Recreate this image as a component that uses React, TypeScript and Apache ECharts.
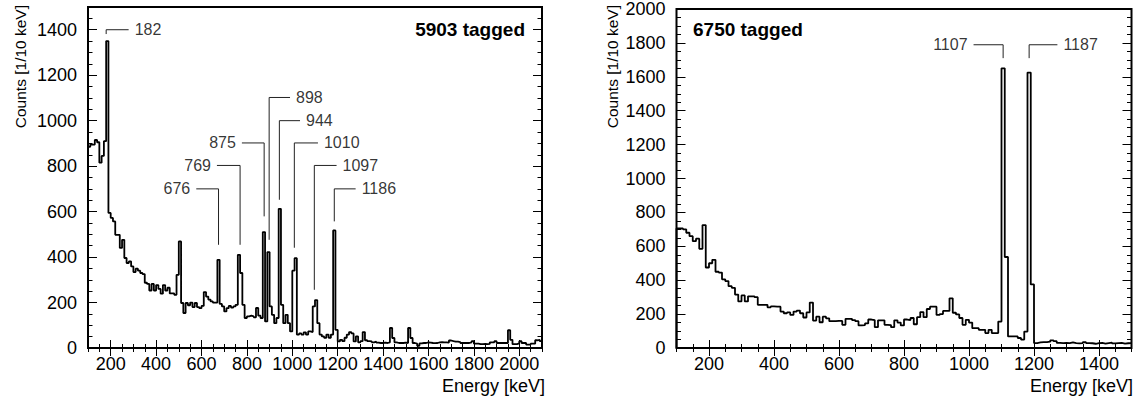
import { useEffect, useRef } from "react";
import * as echarts from "echarts";

// ---------------- data ----------------
const binWidth = 10; // keV
const leftStart = 100;
const rightStart = 100;

// 5903 tagged, counts per 10 keV bin starting at 100 keV
const leftCounts = [
  885, 895, 895, 915, 905, 815, 845, 910, 1350, 594,
  572, 557, 498, 498, 440, 476, 396, 374, 381, 359,
  334, 349, 340, 330, 325, 287, 282, 253, 282, 253,
  277, 260, 239, 277, 253, 265, 240, 240, 234, 322,
  469, 198, 154, 198, 188, 200, 180, 198, 180, 175,
  185, 246, 226, 213, 205, 200, 200, 388, 194, 183,
  161, 175, 185, 178, 183, 190, 410, 330, 190, 132,
  139, 142, 139, 135, 176, 142, 132, 510, 117, 422,
  183, 146, 109, 132, 612, 190, 109, 146, 109, 73,
  340, 395, 59, 64, 59, 69, 59, 73, 70, 183,
  211, 109, 59, 51, 45, 59, 45, 59, 517, 80,
  29, 36, 30, 45, 59, 70, 64, 29, 51, 25,
  30, 70, 34, 30, 29, 25, 28, 24, 22, 22,
  24, 22, 25, 88, 44, 25, 22, 23, 22, 24,
  22, 88, 44, 22, 19, 10, 20, 22, 22, 25,
  24, 22, 21, 22, 25, 26, 25, 25, 24, 33,
  30, 28, 28, 26, 22, 22, 23, 22, 25, 30,
  19, 19, 17, 17, 18, 17, 18, 25, 25, 30,
  22, 22, 22, 22, 22, 78, 36, 17, 17, 20,
  30, 22, 22, 15, 15, 19, 19, 34, 36, 30,
];

// 6750 tagged, counts per 10 keV bin starting at 100 keV
const rightCounts = [
  705, 705, 700, 680, 660, 630, 645, 585, 725, 475,
  500, 520, 450, 445, 405, 395, 365, 355, 315, 275,
  310, 275, 305, 305, 300, 255, 255, 255, 240, 245,
  244, 244, 215, 205, 210, 195, 215, 221, 205, 180,
  210, 268, 162, 185, 152, 185, 175, 158, 158, 160,
  160, 137, 172, 172, 165, 158, 133, 135, 145, 168,
  165, 123, 163, 163, 137, 135, 123, 163, 150, 133,
  168, 165, 177, 140, 182, 212, 182, 230, 244, 244,
  195, 200, 219, 219, 293, 208, 198, 177, 137, 166,
  150, 117, 117, 107, 107, 88, 107, 88, 88, 156,
  1650, 537, 68, 68, 68, 59, 50, 97, 1625, 375,
  29, 33, 35, 35, 37, 45, 40, 30, 29, 30,
  29, 33, 29, 27, 29, 34, 29, 28, 25, 29,
  30, 26, 29, 32, 27, 29, 30, 26, 28, 29,
];

// peak annotations: energy of leader, leader top/bottom (counts), end of horizontal arm (keV)
const leftPeaks = [
  { label: "182", energy: 180, top: 1400, bottom: 1381, arm: 279 },
  { label: "676", energy: 675, top: 700, bottom: 454, arm: 577 },
  { label: "769", energy: 770, top: 803, bottom: 454, arm: 668 },
  { label: "875", energy: 876, top: 902, bottom: 579, arm: 778 },
  { label: "898", energy: 898, top: 1102, bottom: 476, arm: 990 },
  { label: "944", energy: 943, top: 1000, bottom: 652, arm: 1034 },
  { label: "1010", energy: 1009, top: 902, bottom: 441, arm: 1113 },
  { label: "1097", energy: 1097, top: 803, bottom: 256, arm: 1195 },
  { label: "1186", energy: 1185, top: 700, bottom: 557, arm: 1279 },
];
const rightPeaks = [
  { label: "1107", energy: 1105, top: 1789, bottom: 1710, arm: 1014 },
  { label: "1187", energy: 1185, top: 1789, bottom: 1710, arm: 1272 },
];

const leftXRange = [100, 2100];
const leftYRange = [0, 1500];
const rightXRange = [100, 1500];
const rightYRange = [0, 2000];

const leftXTicks = [200, 400, 600, 800, 1000, 1200, 1400, 1600, 1800, 2000];
const leftYTicks = [0, 200, 400, 600, 800, 1000, 1200, 1400];
const rightXTicks = [200, 400, 600, 800, 1000, 1200, 1400];
const rightYTicks = [0, 200, 400, 600, 800, 1000, 1200, 1400, 1600, 1800, 2000];

const leftTag = "5903 tagged";
const rightTag = "6750 tagged";
const xTitle = "Energy [keV]";
const yTitle = "Counts [1/10 keV]";

// ---------------- helpers ----------------
const FONT = "Liberation Sans, Arial, Helvetica, sans-serif";

function minorTicks(lo: number, hi: number, step: number) {
  const out: number[] = [];
  for (let v = lo; v <= hi + 1e-9; v += step) out.push(v);
  return out;
}

function histPoints(start: number, counts: number[]) {
  const pts: number[][] = [[start, 0]];
  counts.forEach((c, i) => pts.push([start + i * binWidth, c]));
  pts.push([start + counts.length * binWidth, counts[counts.length - 1]]);
  return pts;
}

const plain = (v: number) => String(v);

function buildAxes(g: number, xr: number[], yr: number[], xt: number[], yt: number[]) {
  const tickStyle = { color: "#000", width: 1 };
  const xMinor = minorTicks(xr[0], xr[1], 50);
  const yMinor = minorTicks(yr[0], yr[1], 50);
  const baseX = {
    gridIndex: g,
    type: "value",
    min: xr[0],
    max: xr[1],
    axisLine: { show: false },
    splitLine: { show: false },
  };
  const baseY = {
    gridIndex: g,
    type: "value",
    min: yr[0],
    max: yr[1],
    axisLine: { show: false },
    splitLine: { show: false },
  };
  const xAxes = [
    {
      ...baseX,
      position: "bottom",
      axisTick: { show: true, inside: true, length: 8, customValues: xt, lineStyle: tickStyle },
      axisLabel: { show: true, customValues: xt, formatter: plain, fontSize: 18, color: "#000", margin: 7, fontFamily: FONT },
    },
    {
      ...baseX,
      position: "bottom",
      axisTick: { show: true, inside: true, length: 4, customValues: xMinor, lineStyle: tickStyle },
      axisLabel: { show: false },
    },
    {
      ...baseX,
      position: "top",
      axisTick: { show: true, inside: true, length: 8, customValues: xt, lineStyle: tickStyle },
      axisLabel: { show: false },
    },
    {
      ...baseX,
      position: "top",
      axisTick: { show: true, inside: true, length: 4, customValues: xMinor, lineStyle: tickStyle },
      axisLabel: { show: false },
    },
  ];
  const yAxes = [
    {
      ...baseY,
      position: "left",
      axisTick: { show: true, inside: true, length: 9, customValues: yt, lineStyle: tickStyle },
      axisLabel: { show: true, customValues: yt, formatter: plain, fontSize: 18, color: "#000", margin: 11, fontFamily: FONT },
    },
    {
      ...baseY,
      position: "left",
      axisTick: { show: true, inside: true, length: 4.5, customValues: yMinor, lineStyle: tickStyle },
      axisLabel: { show: false },
    },
    {
      ...baseY,
      position: "right",
      axisTick: { show: true, inside: true, length: 9, customValues: yt, lineStyle: tickStyle },
      axisLabel: { show: false },
    },
    {
      ...baseY,
      position: "right",
      axisTick: { show: true, inside: true, length: 4.5, customValues: yMinor, lineStyle: tickStyle },
      axisLabel: { show: false },
    },
  ];
  return { xAxes, yAxes };
}

function peakSeries(peaks: typeof leftPeaks, axisIndex: number) {
  const out: any[] = [];
  peaks.forEach((p) => {
    out.push({
      type: "line",
      xAxisIndex: axisIndex,
      yAxisIndex: axisIndex,
      symbol: "none",
      silent: true,
      lineStyle: { color: "#222", width: 1 },
      data: [
        [p.energy, p.bottom],
        [p.energy, p.top],
        [p.arm, p.top],
      ],
      z: 3,
    });
  });
  out.push({
    type: "scatter",
    xAxisIndex: axisIndex,
    yAxisIndex: axisIndex,
    symbolSize: 0,
    silent: true,
    itemStyle: { color: "#000" },
    data: peaks.map((p) => ({
      value: [p.arm, p.top],
      label: {
        show: true,
        position: p.arm > p.energy ? "right" : "left",
        distance: 6,
        formatter: p.label,
        fontSize: 16,
        color: "#000",
        fontFamily: FONT,
      },
    })),
    z: 4,
  });
  return out;
}

export default function App() {
  const ref = useRef<HTMLDivElement>(null);

  useEffect(() => {
    if (!ref.current) return;
    const chart = echarts.init(ref.current, undefined, { renderer: "svg" });

    const a = buildAxes(0, leftXRange, leftYRange, leftXTicks, leftYTicks);
    const b = buildAxes(1, rightXRange, rightYRange, rightXTicks, rightYTicks);

    const gridStyle = { show: true, borderColor: "#000", borderWidth: 2, backgroundColor: "transparent" };

    const option: any = {
      animation: false,
      textStyle: { fontFamily: FONT },
      grid: [
        { left: 88, top: 7, width: 454, height: 341, ...gridStyle },
        { left: 676.5, top: 7, width: 455, height: 341, ...gridStyle },
      ],
      xAxis: [...a.xAxes, ...b.xAxes],
      yAxis: [...a.yAxes, ...b.yAxes],
      series: [
        {
          type: "line",
          xAxisIndex: 0,
          yAxisIndex: 0,
          step: "end",
          symbol: "none",
          silent: true,
          lineStyle: { color: "#000", width: 1.8 },
          data: histPoints(leftStart, leftCounts),
          z: 2,
        },
        {
          type: "line",
          xAxisIndex: 4,
          yAxisIndex: 4,
          step: "end",
          symbol: "none",
          silent: true,
          lineStyle: { color: "#000", width: 1.8 },
          data: histPoints(rightStart, rightCounts),
          z: 2,
        },
        ...peakSeries(leftPeaks, 0),
        ...peakSeries(rightPeaks, 4),
      ],
      graphic: [
        {
          type: "text",
          x: 525,
          y: 29,
          style: { text: leftTag, font: `bold 19px ${FONT}`, fill: "#000", textAlign: "right", textVerticalAlign: "middle" },
        },
        {
          type: "text",
          x: 693,
          y: 29,
          style: { text: rightTag, font: `bold 19px ${FONT}`, fill: "#000", textAlign: "left", textVerticalAlign: "middle" },
        },
        {
          type: "text",
          x: 545,
          y: 386,
          style: { text: xTitle, font: `18px ${FONT}`, fill: "#000", textAlign: "right", textVerticalAlign: "middle" },
        },
        {
          type: "text",
          x: 1133,
          y: 386,
          style: { text: xTitle, font: `18px ${FONT}`, fill: "#000", textAlign: "right", textVerticalAlign: "middle" },
        },
        {
          type: "text",
          x: 20,
          y: 5,
          rotation: Math.PI / 2,
          style: { text: yTitle, font: `15.5px ${FONT}`, fill: "#000", textAlign: "right", textVerticalAlign: "middle" },
        },
        {
          type: "text",
          x: 612,
          y: 5,
          rotation: Math.PI / 2,
          style: { text: yTitle, font: `15.5px ${FONT}`, fill: "#000", textAlign: "right", textVerticalAlign: "middle" },
        },
      ],
    };

    chart.setOption(option);
    return () => chart.dispose();
  }, []);

  return (
    <div
      ref={ref}
      style={{ position: "fixed", left: 0, top: 0, width: 1134, height: 396, background: "#fff" }}
    />
  );
}
